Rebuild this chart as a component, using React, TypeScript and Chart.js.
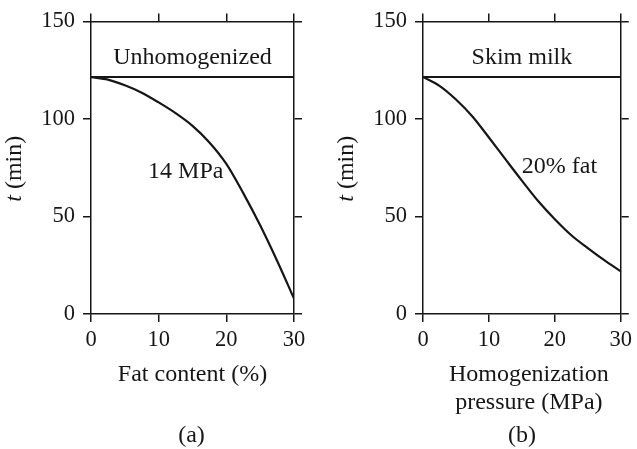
import React, { useEffect, useRef } from "react";
import { Chart, registerables } from "chart.js";

Chart.register(...registerables);

// ---- data ----
const xTickValues = [0, 10, 20, 30];
const yTickValues = [0, 50, 100, 150];

const fatContent = [0, 2.5, 5, 7.5, 10, 12.5, 15, 17.5, 20, 22.5, 25, 27.5, 30];
const timeAt14MPa = [121.5, 120.2, 117.3, 113.5, 108.5, 103, 96.5, 88, 77, 62, 45.5, 27.3, 7.9];

const pressureMPa = [0, 2.5, 5, 7.5, 10, 12.5, 15, 17.5, 20, 22.5, 25, 27.5, 30];
const timeAt20Fat = [121.5, 117, 110, 101.3, 90.5, 79.4, 68.4, 57.8, 48.6, 40.4, 33.8, 27.6, 21.9];

const unhomogenizedTime = 121.5;
const skimMilkTime = 121.5;

const yTitleItalic = "t";
const yTitleRest = " (min)";

// ---- style ----
const INK = "#161616";
const SERIF = "'Liberation Serif', 'Times New Roman', serif";
const TEXT_SIZE = 24;
const TICK_SIZE = 22.5;
const W = 637;
const H = 449;

type PanelProps = {
  xs: number[];
  ys: number[];
  refValue: number;
  refLabel: string;
  refLabelAt: [number, number];
  curveLabel: string;
  curveLabelAt: [number, number];
  xTitle: string[];
  xTitleShift: number;
  caption: string;
  captionShift: number;
  left: number;
  width: number;
  yBoxWidth: number;
  y2BoxWidth: number;
};

function Panel(p: PanelProps) {
  const ref = useRef<HTMLCanvasElement | null>(null);
  useEffect(() => {
    const canvas = ref.current;
    if (!canvas) return;
    const grid = {
      drawOnChartArea: false,
      drawTicks: true,
      tickLength: 8,
      color: INK,
      lineWidth: 1.5,
    };
    const border = { display: true, color: INK, width: 1.5 };
    const fit = (size: number, horiz: boolean) => (s: any) => {
      if (horiz) s.height = size;
      else s.width = size;
    };
    const textPlugin = {
      id: "panelText",
      afterDraw(chart: any) {
        const ctx = chart.ctx as CanvasRenderingContext2D;
        const xs = chart.scales.x;
        const ys = chart.scales.y;
        const area = chart.chartArea;
        ctx.save();
        ctx.fillStyle = INK;
        ctx.textBaseline = "alphabetic";
        ctx.textAlign = "center";
        ctx.font = `${TEXT_SIZE}px ${SERIF}`;
        ctx.fillText(p.refLabel, xs.getPixelForValue(p.refLabelAt[0]), ys.getPixelForValue(p.refLabelAt[1]));
        ctx.fillText(p.curveLabel, xs.getPixelForValue(p.curveLabelAt[0]), ys.getPixelForValue(p.curveLabelAt[1]));
        const cx = (area.left + area.right) / 2;
        p.xTitle.forEach((line, i) => {
          ctx.fillText(line, cx + p.xTitleShift, area.bottom + 67 + i * 28);
        });
        ctx.fillText(p.caption, cx + p.captionShift, area.bottom + 128);
        // y title, rotated, italic t
        ctx.translate(area.left - 76, (area.top + area.bottom) / 2 + 1);
        ctx.rotate(-Math.PI / 2);
        ctx.textAlign = "left";
        ctx.textBaseline = "middle";
        const italic = `italic ${TEXT_SIZE}px ${SERIF}`;
        const normal = `${TEXT_SIZE}px ${SERIF}`;
        ctx.font = italic;
        const w1 = ctx.measureText(yTitleItalic).width;
        ctx.font = normal;
        const w2 = ctx.measureText(yTitleRest).width;
        const start = -(w1 + w2) / 2;
        ctx.font = italic;
        ctx.fillText(yTitleItalic, start, 0);
        ctx.font = normal;
        ctx.fillText(yTitleRest, start + w1, 0);
        ctx.restore();
      },
    };
    const chart = new Chart(canvas, {
      type: "line",
      data: {
        datasets: [
          {
            data: [
              { x: xTickValues[0], y: p.refValue },
              { x: xTickValues[xTickValues.length - 1], y: p.refValue },
            ],
            borderColor: INK,
            borderWidth: 2,
            pointRadius: 0,
            tension: 0,
          },
          {
            data: p.xs.map((x, i) => ({ x, y: p.ys[i] })),
            borderColor: INK,
            borderWidth: 2.2,
            pointRadius: 0,
            cubicInterpolationMode: "monotone",
          },
        ],
      },
      options: {
        animation: false,
        responsive: false,
        devicePixelRatio: 1,
        layout: { padding: 0 },
        plugins: { legend: { display: false }, tooltip: { enabled: false } },
        scales: {
          x: {
            type: "linear",
            position: "bottom",
            min: 0,
            max: 30,
            afterBuildTicks: (s: any) => {
              s.ticks = xTickValues.map((v) => ({ value: v }));
            },
            ticks: { color: INK, padding: 5, maxRotation: 0, font: { family: SERIF, size: TICK_SIZE } },
            grid,
            border,
            afterFit: fit(H - 314, true),
          },
          x2: {
            type: "linear",
            position: "top",
            min: 0,
            max: 30,
            afterBuildTicks: (s: any) => {
              s.ticks = xTickValues.map((v) => ({ value: v }));
            },
            ticks: { display: false },
            grid,
            border,
            afterFit: fit(17, true),
          },
          y: {
            type: "linear",
            position: "left",
            min: 0,
            max: 150,
            afterBuildTicks: (s: any) => {
              s.ticks = yTickValues.map((v) => ({ value: v }));
            },
            ticks: { color: INK, padding: 8, font: { family: SERIF, size: TICK_SIZE } },
            grid,
            border,
            afterFit: fit(p.yBoxWidth, false),
          },
          y2: {
            type: "linear",
            position: "right",
            min: 0,
            max: 150,
            afterBuildTicks: (s: any) => {
              s.ticks = yTickValues.map((v) => ({ value: v }));
            },
            ticks: { display: false },
            grid,
            border,
            afterFit: fit(p.y2BoxWidth, false),
          },
        },
      } as any,
      plugins: [textPlugin],
    });
    return () => chart.destroy();
  }, []);
  return (
    <canvas
      ref={ref}
      width={p.width}
      height={H}
      style={{ position: "absolute", left: p.left, top: 0, width: p.width, height: H }}
    />
  );
}

export default function App() {
  return (
    <div style={{ position: "absolute", left: 0, top: 0, width: W, height: H, background: "#fff", overflow: "hidden" }}>
      <Panel
        xs={fatContent}
        ys={timeAt14MPa}
        refValue={unhomogenizedTime}
        refLabel="Unhomogenized"
        refLabelAt={[15, 128.2]}
        curveLabel="14 MPa"
        curveLabelAt={[14, 69.6]}
        xTitle={["Fat content (%)"]}
        xTitleShift={0}
        caption="(a)"
        captionShift={-1}
        left={0}
        width={318}
        yBoxWidth={91}
        y2BoxWidth={24}
      />
      <Panel
        xs={pressureMPa}
        ys={timeAt20Fat}
        refValue={skimMilkTime}
        refLabel="Skim milk"
        refLabelAt={[15, 128.2]}
        curveLabel="20% fat"
        curveLabelAt={[20.7, 72.3]}
        xTitle={["Homogenization", "pressure (MPa)"]}
        xTitleShift={7}
        caption="(b)"
        captionShift={0}
        left={318}
        width={319}
        yBoxWidth={105}
        y2BoxWidth={11}
      />
    </div>
  );
}
